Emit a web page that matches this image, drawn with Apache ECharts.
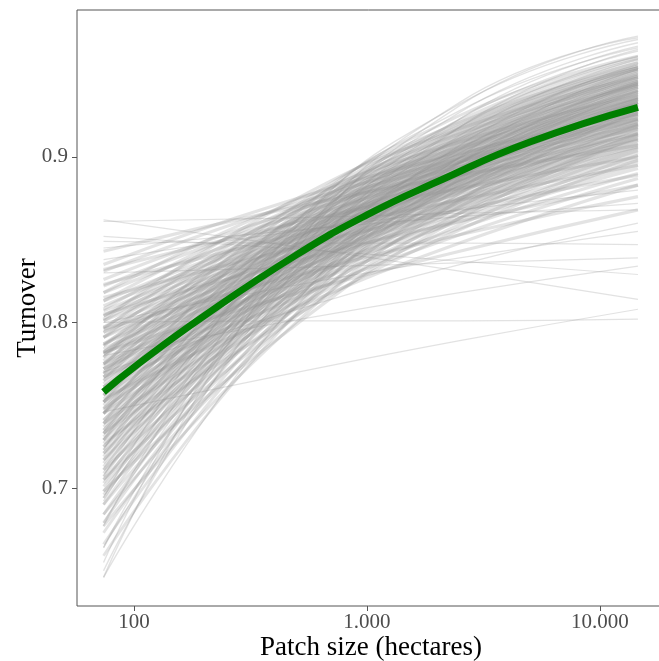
<!DOCTYPE html>
<html>
<head>
<meta charset="utf-8">
<script src="https://cdn.jsdelivr.net/npm/echarts@6/dist/echarts.min.js"></script>
<style>
html,body{margin:0;padding:0;background:#fff;}
#chart{width:659px;height:661px;}
</style>
</head>
<body>
<div id="chart"></div>
<script>
// x positions (hectares) at which each grey bootstrap curve is read
const curveX = [74, 430, 2500, 14550];

// grey curves: turnover at curveX
const curvesFlat = [
  [0.862, 0.847, 0.831, 0.814],
  [0.861, 0.863, 0.866, 0.868],
  [0.852, 0.845, 0.837, 0.829],
  [0.849, 0.848, 0.848, 0.847],
  [0.800, 0.801, 0.801, 0.802],
  [0.746, 0.768, 0.789, 0.808],
  [0.780, 0.800, 0.818, 0.834],
  [0.830, 0.833, 0.836, 0.839],
  [0.800, 0.821, 0.839, 0.855],
  [0.845, 0.855, 0.864, 0.872],
  [0.838, 0.854, 0.868, 0.880],
  [0.770, 0.805, 0.835, 0.860]
];
const curvesLow = [
  [0.782, 0.815, 0.843, 0.868],
  [0.796, 0.826, 0.853, 0.876],
  [0.805, 0.835, 0.861, 0.883],
  [0.815, 0.843, 0.868, 0.889],
  [0.823, 0.851, 0.874, 0.895],
  [0.832, 0.858, 0.881, 0.900],
  [0.843, 0.868, 0.889, 0.907],
  [0.754, 0.805, 0.848, 0.883],
  [0.767, 0.816, 0.857, 0.890],
  [0.775, 0.823, 0.863, 0.895],
  [0.784, 0.831, 0.869, 0.899],
  [0.791, 0.836, 0.873, 0.903],
  [0.797, 0.842, 0.878, 0.906],
  [0.804, 0.847, 0.882, 0.910],
  [0.810, 0.852, 0.886, 0.913],
  [0.818, 0.858, 0.891, 0.917],
  [0.826, 0.865, 0.897, 0.921],
  [0.835, 0.872, 0.902, 0.926]
];
const curvesLow2 = [
  [0.761, 0.811, 0.853, 0.887],
  [0.772, 0.821, 0.861, 0.893],
  [0.781, 0.828, 0.866, 0.897],
  [0.787, 0.833, 0.871, 0.901],
  [0.794, 0.839, 0.875, 0.905],
  [0.801, 0.844, 0.880, 0.908],
  [0.807, 0.849, 0.884, 0.911],
  [0.813, 0.854, 0.888, 0.914],
  [0.822, 0.862, 0.894, 0.919],
  [0.831, 0.869, 0.899, 0.923]
];
const curvesMid = [
  [0.727, 0.799, 0.856, 0.898],
  [0.739, 0.808, 0.863, 0.904],
  [0.748, 0.816, 0.869, 0.908],
  [0.756, 0.822, 0.873, 0.911],
  [0.761, 0.826, 0.876, 0.914],
  [0.767, 0.831, 0.880, 0.916],
  [0.772, 0.835, 0.883, 0.918],
  [0.777, 0.839, 0.886, 0.920],
  [0.782, 0.843, 0.889, 0.923],
  [0.787, 0.847, 0.892, 0.925],
  [0.794, 0.852, 0.896, 0.928],
  [0.801, 0.857, 0.899, 0.930],
  [0.808, 0.863, 0.904, 0.933],
  [0.818, 0.870, 0.909, 0.937],
  [0.698, 0.792, 0.863, 0.912],
  [0.711, 0.802, 0.870, 0.917],
  [0.721, 0.810, 0.875, 0.920],
  [0.729, 0.816, 0.880, 0.923],
  [0.735, 0.821, 0.883, 0.926],
  [0.741, 0.825, 0.886, 0.928],
  [0.747, 0.829, 0.889, 0.930],
  [0.752, 0.833, 0.892, 0.932],
  [0.758, 0.838, 0.895, 0.933],
  [0.763, 0.842, 0.897, 0.935],
  [0.769, 0.846, 0.900, 0.937],
  [0.775, 0.851, 0.904, 0.939],
  [0.782, 0.856, 0.907, 0.942],
  [0.791, 0.862, 0.911, 0.944],
  [0.802, 0.870, 0.917, 0.948]
];
const curvesMid2 = [
  [0.733, 0.804, 0.859, 0.901],
  [0.745, 0.813, 0.866, 0.906],
  [0.752, 0.819, 0.871, 0.910],
  [0.759, 0.825, 0.875, 0.913],
  [0.765, 0.829, 0.879, 0.915],
  [0.770, 0.833, 0.882, 0.918],
  [0.775, 0.838, 0.885, 0.920],
  [0.781, 0.842, 0.888, 0.922],
  [0.786, 0.846, 0.891, 0.924],
  [0.791, 0.849, 0.894, 0.926],
  [0.797, 0.854, 0.897, 0.929],
  [0.804, 0.859, 0.901, 0.932],
  [0.813, 0.866, 0.906, 0.935],
  [0.705, 0.797, 0.866, 0.914],
  [0.717, 0.807, 0.873, 0.919],
  [0.725, 0.813, 0.878, 0.922],
  [0.733, 0.819, 0.882, 0.925],
  [0.739, 0.823, 0.885, 0.927],
  [0.745, 0.828, 0.888, 0.929],
  [0.750, 0.832, 0.891, 0.931],
  [0.756, 0.836, 0.894, 0.933],
  [0.761, 0.840, 0.897, 0.935],
  [0.767, 0.844, 0.899, 0.936],
  [0.772, 0.848, 0.902, 0.938],
  [0.779, 0.853, 0.905, 0.940],
  [0.786, 0.858, 0.909, 0.943],
  [0.796, 0.865, 0.914, 0.946]
];
const curvesSteep = [
  [0.677, 0.792, 0.874, 0.927],
  [0.690, 0.802, 0.881, 0.931],
  [0.701, 0.810, 0.886, 0.934],
  [0.709, 0.816, 0.890, 0.936],
  [0.717, 0.822, 0.894, 0.939],
  [0.725, 0.828, 0.897, 0.941],
  [0.731, 0.832, 0.900, 0.943],
  [0.737, 0.836, 0.903, 0.944],
  [0.745, 0.842, 0.906, 0.946],
  [0.752, 0.847, 0.910, 0.948],
  [0.759, 0.852, 0.913, 0.950],
  [0.769, 0.858, 0.917, 0.953],
  [0.779, 0.865, 0.921, 0.955],
  [0.659, 0.796, 0.887, 0.940],
  [0.673, 0.805, 0.893, 0.944],
  [0.684, 0.813, 0.897, 0.946],
  [0.694, 0.821, 0.902, 0.949],
  [0.703, 0.826, 0.905, 0.951],
  [0.711, 0.832, 0.909, 0.953],
  [0.719, 0.838, 0.912, 0.954],
  [0.729, 0.844, 0.916, 0.957],
  [0.739, 0.851, 0.920, 0.959],
  [0.752, 0.859, 0.925, 0.961]
];
const curvesSteep2 = [
  [0.684, 0.797, 0.878, 0.929],
  [0.696, 0.807, 0.884, 0.933],
  [0.705, 0.813, 0.888, 0.935],
  [0.713, 0.819, 0.892, 0.938],
  [0.721, 0.825, 0.896, 0.940],
  [0.729, 0.831, 0.899, 0.942],
  [0.735, 0.835, 0.902, 0.944],
  [0.741, 0.839, 0.905, 0.945],
  [0.748, 0.844, 0.908, 0.947],
  [0.756, 0.849, 0.911, 0.949],
  [0.765, 0.856, 0.915, 0.952],
  [0.774, 0.862, 0.919, 0.954],
  [0.666, 0.801, 0.890, 0.942],
  [0.679, 0.810, 0.896, 0.945],
  [0.690, 0.818, 0.900, 0.948],
  [0.698, 0.823, 0.904, 0.950],
  [0.707, 0.829, 0.907, 0.952],
  [0.715, 0.835, 0.911, 0.954],
  [0.723, 0.840, 0.914, 0.955],
  [0.733, 0.847, 0.918, 0.957],
  [0.745, 0.854, 0.922, 0.960]
];
const curvesSteepest = [
  [0.646, 0.802, 0.900, 0.953],
  [0.664, 0.815, 0.907, 0.956],
  [0.679, 0.825, 0.913, 0.959],
  [0.692, 0.833, 0.918, 0.961],
  [0.707, 0.843, 0.923, 0.964],
  [0.723, 0.853, 0.928, 0.966],
  [0.650, 0.821, 0.918, 0.965],
  [0.664, 0.829, 0.923, 0.967],
  [0.677, 0.838, 0.927, 0.969],
  [0.694, 0.848, 0.932, 0.971],
  [0.646, 0.832, 0.931, 0.973],
  [0.655, 0.836, 0.933, 0.972]
];

// mean fitted curve (green)
const meanX = [74, 100, 200, 500, 1000, 2000, 5000, 14550];
const meanY = [0.758, 0.773, 0.804, 0.841, 0.865, 0.885, 0.909, 0.930];

// axis ticks
const xTicks = [100, 1000, 10000];
const yTicks = [0.7, 0.8, 0.9];

const FONT = 'Liberation Serif';

function greySeries(list, width, color) {
  return list.map(function (c) {
    return {
      type: 'line',
      data: curveX.map(function (x, i) { return [x, c[i]]; }),
      smooth: true,
      symbol: 'none',
      silent: true,
      z: 1,
      lineStyle: { color: color, width: width }
    };
  });
}

const CORE = 'rgba(145,145,145,0.25)';
const EDGE = 'rgba(160,160,160,0.30)';
let series = [].concat(
  greySeries(curvesFlat, 1.2, EDGE),
  greySeries(curvesSteepest, 1.4, EDGE),
  greySeries(curvesLow, 3.2, CORE),
  greySeries(curvesLow2, 3.2, CORE),
  greySeries(curvesMid, 3.2, CORE),
  greySeries(curvesMid2, 3.2, CORE),
  greySeries(curvesSteep, 2.8, CORE),
  greySeries(curvesSteep2, 2.8, CORE)
);
series.push({
  type: 'line',
  data: meanX.map(function (x, i) { return [x, meanY[i]]; }),
  smooth: true,
  symbol: 'none',
  silent: true,
  z: 5,
  lineStyle: { color: '#007f00', width: 7, cap: 'butt' }
});

function fmtThousands(v) {
  return String(Math.round(v)).replace(/\B(?=(\d{3})+(?!\d))/g, '.');
}

const chart = echarts.init(document.getElementById('chart'), null, { renderer: 'canvas' });
chart.setOption({
  animation: false,
  backgroundColor: '#ffffff',
  grid: {
    left: 77, top: 10, right: -6, bottom: 55,
    containLabel: false,
    outerBoundsMode: 'none',
    show: true, borderColor: '#555555', borderWidth: 1, backgroundColor: 'transparent'
  },
  xAxis: {
    type: 'log',
    logBase: 10,
    min: 56.93,
    max: 19011,
    name: 'Patch size (hectares)',
    nameLocation: 'middle',
    nameGap: 28,
    nameMoveOverlap: false,
    nameTextStyle: { fontFamily: FONT, fontSize: 27, color: '#000' },
    axisLine: { show: false },
    axisTick: { show: true, length: 5, customValues: xTicks, lineStyle: { color: '#555' } },
    axisLabel: {
      customValues: xTicks,
      fontFamily: FONT, fontSize: 21, color: '#4d4d4d', margin: 6,
      formatter: function (v) { return fmtThousands(v); }
    },
    splitLine: { show: false },
    minorTick: { show: false }
  },
  yAxis: {
    type: 'value',
    min: 0.6287,
    max: 0.9888,
    name: 'Turnover',
    nameLocation: 'middle',
    nameGap: 36,
    nameMoveOverlap: false,
    nameTextStyle: { fontFamily: FONT, fontSize: 27, color: '#000' },
    axisLine: { show: false },
    axisTick: { show: true, length: 5, customValues: yTicks, lineStyle: { color: '#555' } },
    axisLabel: {
      customValues: yTicks,
      fontFamily: FONT, fontSize: 21, color: '#4d4d4d', margin: 9,
      formatter: function (v) { return v.toFixed(1); }
    },
    splitLine: { show: false }
  },
  series: series
});
</script>
</body>
</html>
